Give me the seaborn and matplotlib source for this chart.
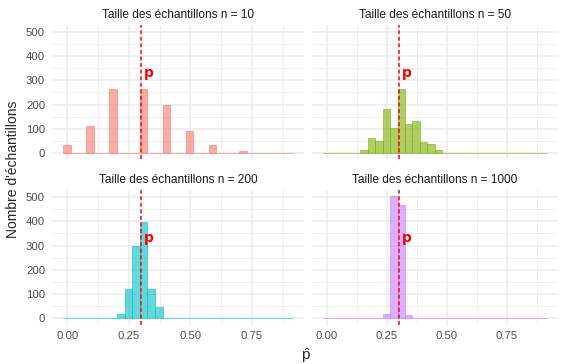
import matplotlib
matplotlib.use("Agg")
import matplotlib.pyplot as plt
from matplotlib.ticker import MultipleLocator
import numpy as np
import seaborn as sns

# tailles d'échantillon et couleurs (palette ggplot)
tailles = [10, 50, 200, 1000]
couleurs = ["#F8766D", "#7CAE00", "#00BFC4", "#C77CFF"]
p_vrai = 0.3

# valeurs de p-hat et nombre d'échantillons
phat_10 = [0.0, 0.1, 0.2, 0.3, 0.4, 0.5, 0.6, 0.7, 0.8, 0.9]
nb_10 = [34, 112, 266, 266, 197, 91, 34, 9, 1, 1]

phat_50 = [0.16, 0.20, 0.22, 0.26, 0.28, 0.30, 0.34, 0.38, 0.40, 0.44, 0.46]
nb_50 = [10, 60, 50, 181, 105, 263, 120, 132, 46, 38, 10]

phat_200 = [0.22, 0.25, 0.28, 0.31, 0.34, 0.37]
nb_200 = [18, 120, 300, 398, 120, 48]

phat_1000 = [0.25, 0.28, 0.31, 0.34]
nb_1000 = [18, 504, 466, 14]

donnees = [(phat_10, nb_10), (phat_50, nb_50), (phat_200, nb_200), (phat_1000, nb_1000)]

sns.set_style("white")
plt.rcParams['font.family'] = ['Liberation Sans', 'DejaVu Sans']
plt.rcParams['mathtext.fontset'] = 'custom'
plt.rcParams['mathtext.rm'] = 'Liberation Sans'

# 30 classes sur l'étendue commune (comme geom_histogram)
lo = min(min(p) for p, _ in donnees)
hi = max(max(p) for p, _ in donnees)
w = (hi - lo) / 29
binrange = (lo - w / 2, hi + w / 2)
etendue = binrange[1] - binrange[0]
xlim = (binrange[0] - 0.05 * etendue, binrange[1] + 0.05 * etendue)
ymax = max(max(c) for _, c in donnees)
ylim = (-0.05 * ymax, 1.05 * ymax)

W, H = 562, 364
fig = plt.figure(figsize=(W / 100, H / 100), dpi=100)

boites = [(52, 25, 304, 159), (311.7, 25, 558, 159),
          (52, 190, 304, 324.5), (311.7, 190, 558, 324.5)]

for i, (n, col, (phat, nb), b) in enumerate(zip(tailles, couleurs, donnees, boites)):
    x0, y0, x1, y1 = b
    ax = fig.add_axes([x0 / W, 1 - y1 / H, (x1 - x0) / W, (y1 - y0) / H])
    ax.set_axisbelow(True)
    ax.xaxis.set_major_locator(MultipleLocator(0.25))
    ax.xaxis.set_minor_locator(MultipleLocator(0.125))
    ax.yaxis.set_major_locator(MultipleLocator(100))
    ax.yaxis.set_minor_locator(MultipleLocator(50))
    ax.grid(which="major", color="#EBEBEB", linewidth=1.1)
    ax.grid(which="minor", color="#EFEFEF", linewidth=0.7)

    sns.histplot(x=phat, weights=nb, bins=30, binrange=binrange, ax=ax,
                 color=col, alpha=0.6, edgecolor=col, linewidth=0.4)

    ax.axvline(p_vrai, color="red", linestyle=(0, (2.6, 1.7)), linewidth=1.1)
    ax.text(0.333, 332, "p", color="red", fontsize=10, fontweight="bold",
            ha="center", va="center", family="DejaVu Sans")

    ax.set_xlim(xlim)
    ax.set_ylim(ylim)
    ax.set_xlabel("")
    ax.set_ylabel("")
    ax.set_title(f"Taille des échantillons n = {n}", fontsize=8.6,
                 color="#1A1A1A", pad=4.8)
    for s in ax.spines.values():
        s.set_visible(False)
    ax.tick_params(which="both", length=0, labelsize=8.2, labelcolor="#4D4D4D")
    ax.tick_params(axis="x", pad=4.5)
    ax.tick_params(axis="y", pad=5)
    ax.set_xticks([0, 0.25, 0.5, 0.75])
    ax.set_xticklabels(["0.00", "0.25", "0.50", "0.75"])
    if i < 2:
        ax.tick_params(axis="x", labelbottom=False)
    if i % 2 == 1:
        ax.tick_params(axis="y", labelleft=False)

fig.text(306 / W, 1 - 356 / H, r"$\hat{\mathrm{p}}$", ha="center", va="center", fontsize=11)
fig.text(13 / W, 1 - 169 / H, "Nombre d'échantillons", rotation=90,
         ha="center", va="center", fontsize=10)

fig.savefig("out.png", dpi=100)
